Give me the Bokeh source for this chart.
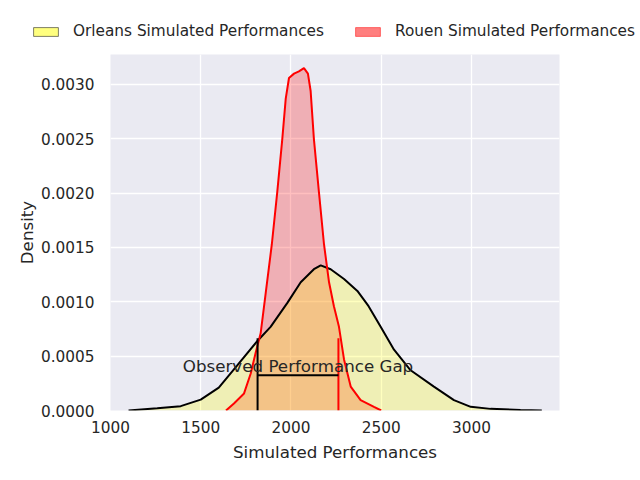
from bokeh.plotting import figure
from bokeh.layouts import column
from bokeh.models import (Range1d, FixedTicker, PrintfTickFormatter, Legend, LegendItem)
from bokeh.core.properties import value
from bokeh.embed import file_html
from bokeh.resources import INLINE

# ---- data ----
orleans_x = [1100, 1259, 1389, 1500, 1600, 1700, 1814, 1887, 1980, 2054, 2127, 2165, 2220,
             2294, 2368, 2430, 2497, 2571, 2663, 2792, 2903, 2996, 3106, 3272, 3390]
orleans_d = [0.0, 0.00002, 0.00004, 0.0001, 0.00021, 0.00041, 0.00064, 0.00077, 0.00099,
             0.00118, 0.0013, 0.001336, 0.0013, 0.00121, 0.0011, 0.00096, 0.00077, 0.00056,
             0.00037, 0.00022, 0.000095, 0.000034, 0.000015, 0.000005, 0.0]

rouen_x = [1640, 1684, 1740, 1777, 1804, 1832, 1860, 1894, 1924, 1952, 1971, 1989, 2017, 2044,
           2072, 2094, 2109, 2127, 2155, 2183, 2211, 2238, 2266, 2294, 2331, 2386, 2460, 2500]
rouen_d = [0.0, 0.000065, 0.000157, 0.00034, 0.00053, 0.00071, 0.00108, 0.00153, 0.00201,
           0.0025, 0.00287, 0.00306, 0.0031, 0.00312, 0.00315, 0.0031, 0.00294, 0.0025,
           0.00201, 0.00153, 0.00118, 0.00096, 0.00077, 0.00047, 0.00022, 0.000095,
           0.000033, 0.0]

orleans_observed = 1815
rouen_observed = 2263
marker_top = 0.000665
gap_level = 0.000325
gap_label = "Observed Performance Gap"
gap_label_y = 0.000405

x_ticks = [1000, 1500, 2000, 2500, 3000]
y_ticks = [0.0, 0.0005, 0.0010, 0.0015, 0.0020, 0.0025, 0.0030]
legend_labels = ["Orleans Simulated Performances", "Rouen Simulated Performances"]
x_label = "Simulated Performances"
y_label = "Density"

TEXT = "#262626"
FONT = "DejaVu Sans"
W, H = 640, 480
LEG_H = 44

# ---- main plot ----
p = figure(width=W, height=H - LEG_H,
           min_border_left=110, min_border_right=81, min_border_top=54 - LEG_H,
           min_border_bottom=70,
           x_range=Range1d(1000, 3488), y_range=Range1d(0, 0.003276),
           output_backend="svg", toolbar_location=None)
p.background_fill_color = "#EAEAF2"
p.border_fill_color = "white"
p.outline_line_color = None

for g in (p.xgrid, p.ygrid):
    g.grid_line_color = "white"
    g.grid_line_width = 1.3

p.xaxis.ticker = FixedTicker(ticks=x_ticks)
p.yaxis.ticker = FixedTicker(ticks=y_ticks)
p.yaxis.formatter = PrintfTickFormatter(format="%.4f")
for ax in (p.xaxis, p.yaxis):
    ax.axis_line_color = None
    ax.major_tick_line_color = None
    ax.minor_tick_line_color = None
    ax.major_tick_out = 0
    ax.major_tick_in = 0
    ax.major_label_text_font = FONT
    ax.major_label_text_font_size = "15.3px"
    ax.major_label_text_color = TEXT
    ax.axis_label_text_font = FONT
    ax.axis_label_text_font_size = "16.7px"
    ax.axis_label_text_font_style = "normal"
    ax.axis_label_text_color = TEXT
p.xaxis.axis_label = x_label
p.yaxis.axis_label = y_label
p.xaxis.major_label_standoff = 10
p.yaxis.major_label_standoff = 16
p.xaxis.axis_label_standoff = 6
p.yaxis.axis_label_standoff = 1

# fills (Rouen under Orleans, as in the reference)
p.varea(x=rouen_x, y1=0, y2=rouen_d, fill_color="red", fill_alpha=0.25)
p.varea(x=orleans_x, y1=0, y2=orleans_d, fill_color="yellow", fill_alpha=0.25)
p.line(x=orleans_x, y=orleans_d, line_color="black", line_width=2)
p.line(x=rouen_x, y=rouen_d, line_color="red", line_width=2)

# observed markers
p.segment(x0=[orleans_observed], y0=[0], x1=[orleans_observed], y1=[marker_top],
          line_color="black", line_width=2)
p.segment(x0=[rouen_observed], y0=[0], x1=[rouen_observed], y1=[marker_top],
          line_color="red", line_width=2)
p.segment(x0=[orleans_observed], y0=[gap_level], x1=[rouen_observed], y1=[gap_level],
          line_color="black", line_width=2)
p.text(x=[(orleans_observed + rouen_observed) / 2], y=[gap_label_y], text=[gap_label],
       text_align="center", text_baseline="middle",
       text_font=value(FONT), text_font_size="16.7px", text_color=TEXT)

# ---- legend strip ----
lf = figure(width=W, height=LEG_H, x_range=Range1d(0, 1), y_range=Range1d(0, 1),
            min_border=0, x_axis_location=None, y_axis_location=None,
            output_backend="svg", toolbar_location=None)
lf.outline_line_color = None
lf.xgrid.visible = False
lf.ygrid.visible = False
for fig in (lf, p):
    try:
        fig.frame_align = False
    except Exception:
        pass

# zero-size proxy patches, used only for the legend swatches
r1 = lf.quad(left=[0], right=[0], top=[0], bottom=[0],
             fill_color="yellow", fill_alpha=0.5, line_color="black", line_alpha=0.5)
r2 = lf.quad(left=[0], right=[0], top=[0], bottom=[0],
             fill_color="red", fill_alpha=0.5, line_color="red", line_alpha=0.5)
legend = Legend(items=[LegendItem(label=legend_labels[0], renderers=[r1]),
                       LegendItem(label=legend_labels[1], renderers=[r2])],
                orientation="horizontal", location=(30, 4),
                glyph_width=31, glyph_height=11, label_height=11, label_standoff=12,
                spacing=28, padding=0, margin=0, border_line_alpha=0,
                background_fill_alpha=0, label_text_font=FONT, label_text_font_size="15.3px",
                label_text_color=TEXT)
lf.add_layout(legend, "center")

layout = column(lf, p, spacing=0)
open("out.html", "w").write(file_html(layout, INLINE))
